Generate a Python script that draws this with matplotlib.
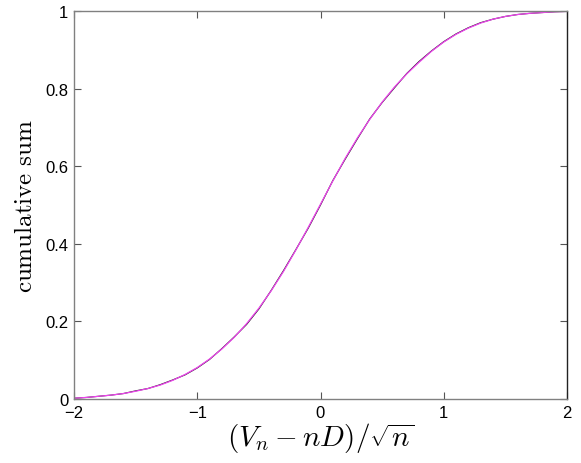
import matplotlib
matplotlib.use("Agg")
import matplotlib.pyplot as plt

# values
x_vals = [-2.0, -1.9, -1.8, -1.7, -1.6, -1.5, -1.4, -1.3, -1.2, -1.1, -1.0,
          -0.9, -0.8, -0.7, -0.6, -0.5, -0.4, -0.3, -0.2, -0.1, 0.0,
          0.1, 0.2, 0.3, 0.4, 0.5, 0.6, 0.7, 0.8, 0.9, 1.0,
          1.1, 1.2, 1.3, 1.4, 1.5, 1.6, 1.7, 1.8, 1.9, 2.0]
theory = [0.002, 0.004, 0.007, 0.010, 0.014, 0.020, 0.027, 0.036, 0.048, 0.063, 0.081,
          0.103, 0.129, 0.159, 0.194, 0.234, 0.279, 0.329, 0.384, 0.442, 0.502,
          0.562, 0.620, 0.673, 0.721, 0.765, 0.804, 0.838, 0.868, 0.896, 0.920,
          0.940, 0.956, 0.969, 0.979, 0.986, 0.991, 0.994, 0.996, 0.998, 0.999]
empirical = [0.002, 0.004, 0.007, 0.010, 0.014, 0.021, 0.027, 0.037, 0.049, 0.062, 0.080,
             0.102, 0.130, 0.160, 0.192, 0.232, 0.280, 0.331, 0.385, 0.440, 0.500,
             0.563, 0.618, 0.671, 0.722, 0.764, 0.802, 0.839, 0.870, 0.897, 0.921,
             0.941, 0.957, 0.970, 0.979, 0.986, 0.991, 0.994, 0.996, 0.998, 0.999]
x_ticks = [-2, -1, 0, 1, 2]
y_ticks = [0, 0.2, 0.4, 0.6, 0.8, 1]
y_tick_labels = ["0", "0.2", "0.4", "0.6", "0.8", "1"]

plt.rcParams['mathtext.fontset'] = 'cm'
plt.rcParams['font.family'] = ['Liberation Sans', 'DejaVu Sans']

fig = plt.figure(figsize=(5.81, 4.64), dpi=100)
ax = fig.add_axes([74/581, 64/464, 493/581, 388/464])

ax.plot(x_vals, empirical, color='#202020', lw=0.8)
ax.plot(x_vals, theory, color='#ee44ee', lw=0.9)

ax.set_xlim(-2, 2)
ax.set_ylim(0, 1)
ax.set_xticks(x_ticks)
ax.set_xticklabels([str(t).replace('-', '\u2212') for t in x_ticks])
ax.set_yticks(y_ticks)
ax.set_yticklabels(y_tick_labels)
ax.tick_params(direction='in', top=True, right=True, length=5, width=0.8,
               labelsize=12, colors='#555555', labelcolor='black', pad=4)
for side in ['left', 'bottom', 'top']:
    ax.spines[side].set_color('#808080')
ax.spines['right'].set_color('#222222')
for s in ax.spines.values():
    s.set_linewidth(1.0)

ax.set_xlabel(r'$(V_n - nD)/\sqrt{n}$', fontsize=21, labelpad=0)
ax.set_ylabel(r'$\mathrm{cumulative\ sum}$', fontsize=18, labelpad=6)

fig.savefig('out.png', dpi=100)
